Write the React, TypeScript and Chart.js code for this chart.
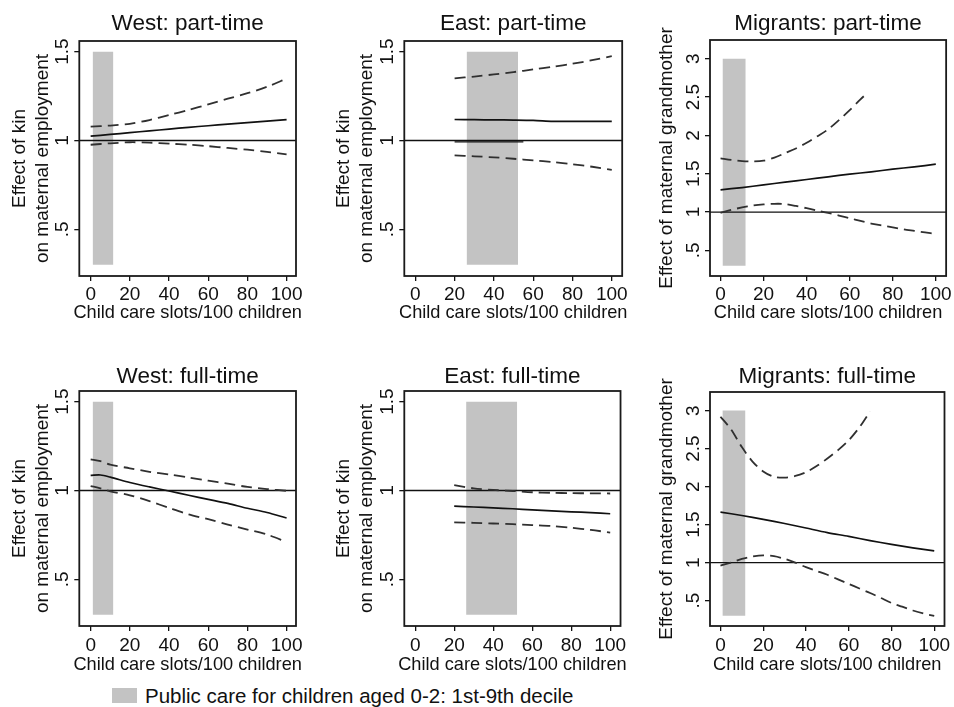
import React, { useEffect, useRef } from 'react';
import { Chart, registerables } from 'chart.js';

Chart.register(...registerables);

const FONT = "'Liberation Sans', Arial, Helvetica, sans-serif";
const BAND_COLOR = '#c3c3c3';
const SOLID_COLOR = '#111111';
const DASH_COLOR = '#303030';

// ---------- tick values / labels ----------
const xTicks = [0, 20, 40, 60, 80, 100];
const xTickLabels = ['0', '20', '40', '60', '80', '100'];
const kinTicks = [0.5, 1, 1.5];
const kinTickLabels = ['.5', '1', '1.5'];
const migTicks = [0.5, 1, 1.5, 2, 2.5, 3];
const migTickLabels = ['.5', '1', '1.5', '2', '2.5', '3'];

// ---------- text ----------
const panelTitles = [
  'West: part-time', 'East: part-time', 'Migrants: part-time',
  'West: full-time', 'East: full-time', 'Migrants: full-time',
];
const kinYTitle = ['Effect of kin', 'on maternal employment'];
const migYTitle = ['Effect of maternal grandmother'];
const xTitle = 'Child care slots/100 children';
const legendLabel = 'Public care for children aged 0-2: 1st-9th decile';

// ---------- shaded band (1st-9th decile) ----------
const bandWest = [1, 11.6];
const bandEast = [26.1, 52.3];
const bandMig = [0.9, 11.7];
const bandKinY = [0.3, 1.5];
const bandMigY = [0.3, 3];
const refValue = 1;

// ---------- West: part-time ----------
const westPtX = [0, 10, 20, 30, 40, 50, 60, 70, 80, 90, 100];
const westPtEst = [1.024, 1.034, 1.044, 1.054, 1.064, 1.074, 1.083, 1.092, 1.101, 1.109, 1.117];
const westPtUpper = [1.078, 1.084, 1.094, 1.115, 1.143, 1.172, 1.203, 1.235, 1.266, 1.302, 1.348];
const westPtLower = [0.976, 0.984, 0.99, 0.988, 0.982, 0.976, 0.968, 0.958, 0.948, 0.936, 0.922];

// ---------- East: part-time ----------
const eastX = [20, 30, 40, 50, 60, 70, 80, 90, 100];
const eastPtEst = [1.118, 1.117, 1.116, 1.115, 1.113, 1.108, 1.107, 1.107, 1.107];
const eastPtUpper = [1.35, 1.36, 1.372, 1.385, 1.4, 1.415, 1.432, 1.452, 1.475];
const eastPtLower = [0.916, 0.911, 0.905, 0.897, 0.888, 0.878, 0.866, 0.852, 0.835];
const eastPtSegX = [20, 55];
const eastPtSegY = [0.992, 0.992];

// ---------- Migrants: part-time ----------
const migPtEstX = [0, 10, 20, 30, 40, 50, 60, 70, 80, 90, 100];
const migPtEst = [1.29, 1.32, 1.355, 1.39, 1.425, 1.46, 1.495, 1.525, 1.56, 1.59, 1.625];
const migPtUpperX = [0, 5, 10, 15, 20, 25, 30, 35, 40, 45, 50, 55, 60, 65, 68];
const migPtUpper = [1.7, 1.68, 1.665, 1.66, 1.67, 1.71, 1.77, 1.83, 1.905, 1.99, 2.08, 2.2, 2.33, 2.47, 2.55];
const migPtLowerX = [0, 5, 10, 15, 20, 25, 30, 35, 40, 45, 50, 55, 60, 65, 70, 75, 80, 85, 90, 95, 100];
const migPtLower = [0.99, 1.03, 1.06, 1.085, 1.1, 1.108, 1.105, 1.08, 1.05, 1.02, 0.99, 0.955, 0.92, 0.885, 0.85, 0.825, 0.8, 0.775, 0.755, 0.735, 0.715];

// ---------- West: full-time ----------
const westFtX = [0, 5, 10, 20, 30, 40, 50, 60, 70, 80, 90, 100];
const westFtEst = [1.085, 1.087, 1.075, 1.045, 1.02, 0.997, 0.973, 0.95, 0.927, 0.9, 0.876, 0.845];
const westFtUpper = [1.175, 1.165, 1.145, 1.125, 1.105, 1.09, 1.073, 1.055, 1.038, 1.02, 1.008, 0.998];
const westFtLower = [1.025, 1.012, 0.995, 0.973, 0.94, 0.902, 0.866, 0.838, 0.808, 0.78, 0.752, 0.71];

// ---------- East: full-time ----------
const eastFtEst = [0.912, 0.907, 0.902, 0.897, 0.891, 0.885, 0.88, 0.875, 0.869];
const eastFtUpper = [1.03, 1.012, 1.003, 0.997, 0.99, 0.987, 0.985, 0.984, 0.983];
const eastFtLower = [0.82, 0.818, 0.814, 0.81, 0.805, 0.8, 0.79, 0.778, 0.763];

// ---------- Migrants: full-time ----------
const migFtUpperX = [0, 5, 10, 15, 20, 25, 30, 35, 40, 45, 50, 55, 60, 65, 70];
const migFtUpper = [2.92, 2.75, 2.52, 2.33, 2.2, 2.13, 2.118, 2.14, 2.19, 2.27, 2.37, 2.48, 2.61, 2.78, 2.99];
const migFtEstX = [0, 10, 20, 30, 40, 50, 60, 70, 80, 90, 100];
const migFtEst = [1.665, 1.62, 1.57, 1.515, 1.455, 1.395, 1.345, 1.29, 1.24, 1.195, 1.155];
const migFtLowerX = [0, 5, 10, 15, 20, 25, 30, 35, 40, 45, 50, 55, 60, 65, 70, 75, 80, 85, 90, 95, 100];
const migFtLower = [0.96, 1.0, 1.05, 1.08, 1.095, 1.085, 1.05, 1.0, 0.94, 0.89, 0.84, 0.78, 0.72, 0.66, 0.6, 0.535, 0.47, 0.42, 0.37, 0.33, 0.3];

type Series = { x: number[]; y: number[]; dashed: boolean; thin?: boolean };
type PanelSpec = {
  left: number; top: number; width: number; height: number;
  title: string; titleY: number; boxTop: number;
  yAxisWidth: number; xAxisHeight: number; padRight: number;
  xMin: number; xMax: number; yMin: number; yMax: number;
  yTicks: number[]; yTickLabels: string[];
  yTitle: string[]; yTitleX: number[];
  xTickPad: number; xTitleY: number;
  band: number[]; bandY: number[];
  series: Series[];
};

const TITLE_SIZE = 22.5;
const TICK_SIZE = 19;
const YTITLE_SIZE = 19;
const XTITLE_SIZE = 18.2;

const cols = [
  { left: 0, width: 310, yAxisWidth: 79.3, padRight: 14, xMin: -5.8, xMax: 104.8, kinX: [20, 42.5] },
  { left: 310, width: 320, yAxisWidth: 94.3, padRight: 7.7, xMin: -5.6, xMax: 105.3, kinX: [34, 57] },
  { left: 620, width: 334, yAxisWidth: 90, padRight: 5.7, xMin: -4.9, xMax: 104.8, kinX: [47] },
];
const rows = [
  { top: 0, height: 330, titleY: 23.8, boxTop: [41, 41, 40], xAxisHeight: 54, xTickPad: 2, xTitleY: 313 },
  { top: 330, height: 350, titleY: 46.3, boxTop: [61, 61, 62], xAxisHeight: 54, xTickPad: 3.5, xTitleY: 334.5 },
];

const seriesByPanel: Series[][] = [
  [
    { x: westPtX, y: westPtUpper, dashed: true },
    { x: westPtX, y: westPtEst, dashed: false },
    { x: westPtX, y: westPtLower, dashed: true },
  ],
  [
    { x: eastX, y: eastPtUpper, dashed: true },
    { x: eastX, y: eastPtEst, dashed: false },
    { x: eastPtSegX, y: eastPtSegY, dashed: false, thin: true },
    { x: eastX, y: eastPtLower, dashed: true },
  ],
  [
    { x: migPtUpperX, y: migPtUpper, dashed: true },
    { x: migPtEstX, y: migPtEst, dashed: false },
    { x: migPtLowerX, y: migPtLower, dashed: true },
  ],
  [
    { x: westFtX, y: westFtUpper, dashed: true },
    { x: westFtX, y: westFtEst, dashed: false },
    { x: westFtX, y: westFtLower, dashed: true },
  ],
  [
    { x: eastX, y: eastFtUpper, dashed: true },
    { x: eastX, y: eastFtEst, dashed: false },
    { x: eastX, y: eastFtLower, dashed: true },
  ],
  [
    { x: migFtUpperX, y: migFtUpper, dashed: true },
    { x: migFtEstX, y: migFtEst, dashed: false },
    { x: migFtLowerX, y: migFtLower, dashed: true },
  ],
];

const specs: PanelSpec[] = [];
rows.forEach((r, ri) => {
  cols.forEach((c, ci) => {
    const isMig = ci === 2;
    specs.push({
      left: c.left, top: r.top, width: c.width, height: r.height,
      title: panelTitles[ri * 3 + ci], titleY: r.titleY, boxTop: r.boxTop[ci],
      yAxisWidth: c.yAxisWidth, xAxisHeight: r.xAxisHeight, padRight: c.padRight,
      xMin: c.xMin, xMax: c.xMax,
      yMin: isMig ? 0.166 : 0.237, yMax: isMig ? 3.245 : 1.56,
      yTicks: isMig ? migTicks : kinTicks,
      yTickLabels: isMig ? migTickLabels : kinTickLabels,
      yTitle: isMig ? migYTitle : kinYTitle, yTitleX: c.kinX,
      xTickPad: r.xTickPad, xTitleY: r.xTitleY,
      band: ci === 0 ? bandWest : ci === 1 ? bandEast : bandMig,
      bandY: isMig ? bandMigY : bandKinY,
      series: seriesByPanel[ri * 3 + ci],
    });
  });
});

const framePlugin = {
  id: 'frame',
  afterDatasetsDraw(chart: any) {
    const { ctx, chartArea } = chart;
    ctx.save();
    ctx.strokeStyle = '#1a1a1a';
    ctx.lineWidth = 1.8;
    ctx.strokeRect(chartArea.left, chartArea.top, chartArea.right - chartArea.left, chartArea.bottom - chartArea.top);
    ctx.restore();
  },
};

const axisTextPlugin = {
  id: 'axisText',
  afterDraw(chart: any, _args: any, opts: any) {
    const { ctx, chartArea } = chart;
    ctx.save();
    ctx.fillStyle = '#111';
    ctx.textAlign = 'center';
    ctx.textBaseline = 'middle';
    ctx.font = `${XTITLE_SIZE}px ${FONT}`;
    ctx.fillText(opts.xTitle, (chartArea.left + chartArea.right) / 2, opts.xTitleY);
    ctx.font = `${YTITLE_SIZE}px ${FONT}`;
    const cy = (chartArea.top + chartArea.bottom) / 2;
    const lines: string[] = opts.yLines;
    const xs: number[] = opts.yLineX;
    lines.forEach((line, i) => {
      ctx.save();
      ctx.translate(xs[i], cy);
      ctx.rotate(-Math.PI / 2);
      ctx.fillText(line, 0, 0);
      ctx.restore();
    });
    ctx.restore();
  },
};

function Panel({ spec }: { spec: PanelSpec }) {
  const ref = useRef<HTMLCanvasElement>(null);
  useEffect(() => {
    const s = spec;
    const datasets: any[] = [];
    datasets.push({
      data: [{ x: s.band[0], y: s.bandY[1] }, { x: s.band[1], y: s.bandY[1] }],
      fill: { value: s.bandY[0] },
      backgroundColor: BAND_COLOR,
      borderWidth: 0,
      borderColor: 'rgba(0,0,0,0)',
      pointRadius: 0,
      order: 10,
    });
    datasets.push({
      data: [{ x: s.xMin, y: refValue }, { x: s.xMax, y: refValue }],
      borderColor: SOLID_COLOR,
      borderWidth: 1.4,
      pointRadius: 0,
      fill: false,
      order: 5,
    });
    s.series.forEach((sr) => {
      datasets.push({
        data: sr.x.map((x, i) => ({ x, y: sr.y[i] })),
        borderColor: sr.dashed ? DASH_COLOR : SOLID_COLOR,
        borderDash: sr.dashed ? [11, 6] : [],
        borderWidth: sr.thin ? 1.3 : sr.dashed ? 1.8 : 1.7,
        pointRadius: 0,
        tension: 0.3,
        fill: false,
        order: 1,
      });
    });
    const padTop = s.titleY - TITLE_SIZE / 2;
    const padBottom = s.boxTop - padTop - TITLE_SIZE;
    const tickFont = { family: FONT, size: TICK_SIZE };
    const chart = new Chart(ref.current as HTMLCanvasElement, {
      type: 'line',
      data: { datasets },
      options: {
        animation: false,
        responsive: true,
        maintainAspectRatio: false,
        events: [],
        layout: { padding: { left: 0, right: s.padRight, top: 0, bottom: 0 } },
        plugins: {
          legend: { display: false },
          tooltip: { enabled: false },
          title: {
            display: true,
            text: s.title,
            fullSize: false,
            color: '#111',
            font: { family: FONT, size: TITLE_SIZE, weight: 'normal', lineHeight: 1 },
            padding: { top: padTop, bottom: padBottom },
          },
          axisText: { xTitle, xTitleY: s.xTitleY, yLines: s.yTitle, yLineX: s.yTitleX },
        } as any,
        scales: {
          x: {
            type: 'linear',
            min: s.xMin,
            max: s.xMax,
            afterBuildTicks: (sc: any) => { sc.ticks = xTicks.map((v) => ({ value: v })); },
            afterFit: (sc: any) => { sc.height = s.xAxisHeight; },
            grid: { drawOnChartArea: false, drawTicks: true, tickLength: 5, color: '#111', lineWidth: 1.3 },
            border: { display: false },
            ticks: {
              font: tickFont, color: '#111', padding: s.xTickPad, maxRotation: 0, minRotation: 0, autoSkip: false,
              callback: (_v: any, i: number) => xTickLabels[i],
            },
          },
          y: {
            type: 'linear',
            min: s.yMin,
            max: s.yMax,
            afterBuildTicks: (sc: any) => { sc.ticks = s.yTicks.map((v) => ({ value: v })); },
            afterFit: (sc: any) => { sc.width = s.yAxisWidth; },
            grid: { drawOnChartArea: false, drawTicks: true, tickLength: 5, color: '#111', lineWidth: 1.3 },
            border: { display: false },
            ticks: {
              font: tickFont, color: '#111', padding: -2, minRotation: 90, maxRotation: 90, crossAlign: 'center', autoSkip: false,
              callback: (_v: any, i: number) => s.yTickLabels[i],
            },
          },
        } as any,
      },
      plugins: [framePlugin, axisTextPlugin],
    });
    return () => chart.destroy();
  }, [spec]);
  return (
    <div style={{ position: 'absolute', left: spec.left, top: spec.top, width: spec.width, height: spec.height }}>
      <canvas ref={ref} />
    </div>
  );
}

export default function App() {
  return (
    <div style={{ position: 'fixed', left: 0, top: 0, width: 954, height: 707, background: '#fff', overflow: 'hidden' }}>
      {specs.map((s, i) => <Panel key={i} spec={s} />)}
      <div style={{ position: 'absolute', left: 112, top: 688, width: 25, height: 15, background: BAND_COLOR }} />
      <div style={{ position: 'absolute', left: 145, top: 687, lineHeight: '18px', fontSize: 20.5, fontFamily: FONT, color: '#111', whiteSpace: 'nowrap' }}>
        {legendLabel}
      </div>
    </div>
  );
}
